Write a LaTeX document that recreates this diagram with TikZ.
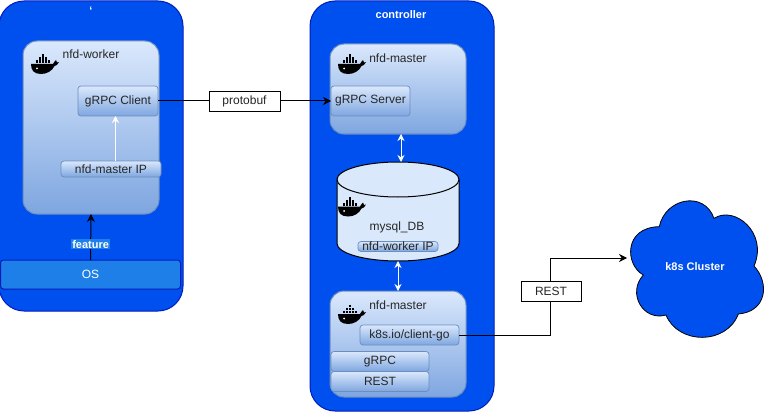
\documentclass[tikz,border=0pt]{standalone}
\usepackage{fontspec}
\setmainfont{Liberation Sans}
\usetikzlibrary{arrows.meta}

\definecolor{hostblue}{HTML}{0050EF}
\definecolor{hostline}{HTML}{001DBC}
\definecolor{paleblue}{HTML}{DAE8FC}
\definecolor{midblue}{HTML}{7EA6E0}
\definecolor{boxline}{HTML}{6C8EBF}
\definecolor{osblue}{HTML}{1E7FE8}

\tikzset{
	hostbox/.style={draw=hostline,fill=hostblue,line width=1pt,rounded corners=25pt,outer sep=0pt},
	podbox/.style={draw=boxline,line width=1pt,top color=paleblue,bottom color=midblue,rounded corners=14pt,outer sep=0pt},
	subbox/.style={draw=boxline,line width=0.7pt,top color=paleblue,bottom color=midblue,rounded corners=3pt,outer sep=0pt,inner sep=0pt,text=black!85},
	tagbox/.style={draw=black,fill=white,inner sep=0pt,outer sep=0pt,line width=0.8pt},
	txt/.style={inner sep=0pt,text=black!85},
	wtxt/.style={inner sep=0pt,text=white,font=\fontsize{11}{13}\selectfont\bfseries},
	link/.style={draw=black,line width=1pt,-{Stealth[length=8pt,width=8pt]}},
	whitelink/.style={draw=white,line width=1pt,{Stealth[length=7pt,width=7pt]}-{Stealth[length=7pt,width=7pt]}},
	whale/.pic={
		\fill[black] (-14,0.5) -- (8,0.5) .. controls (9,-1) and (10,-3) .. (11,-3.5)
			.. controls (12,-2.5) and (12,-1.5) .. (12,-1) -- (14,-1.5)
			.. controls (13,1.5) and (11,2) .. (9.5,2.5)
			.. controls (7,7.5) and (2,10.5) .. (-4,10.5)
			.. controls (-11,10.5) and (-14,7) .. (-14,0.5) -- cycle;
		\foreach \col in {0,1,2,3,4}
			\fill[black] (-9.5+\col*3,-3) rectangle +(2.6,2.6);
		\foreach \col in {1,2,3}
			\fill[black] (-9.5+\col*3,-6) rectangle +(2.6,2.6);
		\fill[black] (-3.5,-9) rectangle +(2.6,2.6);
		\fill[white] (-8,5) circle (1);
	}
}

\begin{document}
\begin{tikzpicture}[x=1pt,y=-1pt,font=\fontsize{12}{14}\selectfont]
	\useasboundingbox (0,0) rectangle (772,412);

	% left host
	\node[hostbox,minimum width=184pt,minimum height=310pt] (workerhost) at (91,156) {};
	\node[wtxt] (tick) at (91,11) {`};
	\node[podbox,minimum width=136pt,minimum height=173pt] (worker) at (91,127.5) {};
	\pic at (45,63.5) {whale};
	\node[txt] (workername) at (91,54) {nfd-worker};
	\node[subbox,minimum width=80pt,minimum height=30pt] (client) at (118,101) {gRPC Client};
	\node[subbox,minimum width=100pt,minimum height=16pt] (masterip) at (111,169) {nfd-master IP};
	\node[draw=hostline,fill=osblue,line width=1pt,rounded corners=3pt,minimum width=180pt,minimum height=29pt,outer sep=0pt,inner sep=0pt,text=white] (os) at (90.5,274.5) {OS};

	% controller
	\node[hostbox,minimum width=184pt,minimum height=410pt] (controller) at (402,206) {};
	\node[wtxt] (controllername) at (401,15) {controller};
	\node[podbox,minimum width=136pt,minimum height=90pt] (master) at (398,89) {};
	\pic at (352,63.5) {whale};
	\node[txt] (mastername) at (398,58) {nfd-master};
	\node[subbox,minimum width=79pt,minimum height=30pt] (server) at (370.5,101) {gRPC Server};

	% database drum
	\draw[draw=black,fill=paleblue,line width=1pt] (337,179.5) -- (337,243.5)
		arc[start angle=180,end angle=360,x radius=61pt,y radius=17.5pt] -- (459,179.5)
		arc[start angle=0,end angle=180,x radius=61pt,y radius=17.5pt] -- cycle;
	\draw[draw=black,line width=1pt] (337,179.5)
		arc[start angle=180,end angle=360,x radius=61pt,y radius=17.5pt];
	\node[minimum width=122pt,minimum height=99pt,inner sep=0pt,outer sep=0pt] (db) at (398,211.5) {};
	\pic at (352,206) {whale};
	\node[txt] (dbname) at (397,227) {mysql\_DB};
	\node[subbox,minimum width=80pt,minimum height=10pt] (workerip) at (398,246.5) {nfd-worker IP};

	\node[podbox,minimum width=136pt,minimum height=106pt] (master2) at (398,344) {};
	\pic at (352,313.5) {whale};
	\node[txt] (master2name) at (398,305) {nfd-master};
	\node[subbox,minimum width=99pt,minimum height=20pt] (go) at (409.5,335) {k8s.io/client-go};
	\node[subbox,minimum width=98pt,minimum height=20pt] (grpc) at (380,361.5) {gRPC};
	\node[subbox,minimum width=98pt,minimum height=20pt] (rest) at (380,381.5) {REST};

	% cluster
	\draw[draw=black,fill=hostblue,line width=0.8pt,shift={(610,190)},scale=0.3333]
		(148,110) .. controls (165,25) and (282,0) .. (312,85)
		.. controls (375,45) and (475,130) .. (432,228)
		.. controls (480,280) and (470,365) .. (385,372)
		.. controls (350,465) and (205,465) .. (168,375)
		.. controls (100,395) and (50,310) .. (100,255)
		.. controls (45,225) and (40,112) .. (148,110) -- cycle;
	\node[wtxt] (cluster) at (695,267) {k8s Cluster};
	\coordinate (bend) at (550,258);
	\coordinate (cloudedge) at (627,258);

	% links
	\path (client.east) edge[link] node[tagbox,minimum width=71pt,minimum height=20pt,text=black!85]{protobuf} (server.west);
	\path (os.north) edge[link] node[pos=0.34,wtxt,fill=osblue,inner sep=1pt]{feature} (worker.south);
	\draw[draw=white,line width=1pt,-{Stealth[length=7pt,width=7pt]}] ([xshift=4.5pt]masterip.north) -- ([xshift=-2.5pt]client.south);
	\draw[whitelink] (master.south -| 401,0) -- (db.north -| 401,0);
	\draw[whitelink] (db.south) -- (master2.north);
	\draw[link] (go.east) -| (bend) -- (cloudedge);
	\node[tagbox,minimum width=60pt,minimum height=20pt,text=black!85] (resttag) at (551,291) {REST};
\end{tikzpicture}
\end{document}
